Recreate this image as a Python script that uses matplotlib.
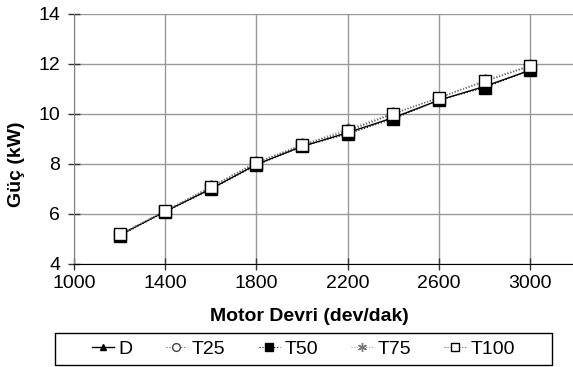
import matplotlib.pyplot as plt
from matplotlib.patches import Rectangle
import numpy as np

plt.rcParams['font.family'] = ['Liberation Sans', 'DejaVu Sans']

# Motor speed (dev/dak)
rpm = [1200, 1400, 1600, 1800, 2000, 2200, 2400, 2600, 2800, 3000]

# Power (kW) per fuel
d = [5.15, 6.10, 7.00, 7.98, 8.70, 9.25, 9.85, 10.55, 11.10, 11.75]
t25 = [5.18, 6.12, 7.05, 8.05, 8.75, 9.35, 10.00, 10.65, 11.30, 11.90]
t50 = [5.12, 6.08, 6.98, 7.95, 8.70, 9.20, 9.80, 10.55, 11.05, 11.75]
t75 = [5.18, 6.12, 7.10, 8.08, 8.78, 9.40, 10.05, 10.65, 11.35, 11.95]
t100 = [5.18, 6.12, 7.08, 8.05, 8.75, 9.30, 10.00, 10.65, 11.30, 11.93]

fig = plt.figure(figsize=(5.73, 3.67), dpi=100)
ax = fig.add_axes([0.129, 0.281, 0.876, 0.681])

ax.plot(rpm, d, color='black', lw=1.0, marker='^', ms=7, mfc='black', mec='black', label='D')
ax.plot(rpm, t25, color='#555555', lw=0.8, ls=':', marker='o', ms=8, mfc='white', mec='#444444', label='T25')
ax.plot(rpm, t50, color='black', lw=0.8, ls=':', marker='s', ms=8, mfc='black', mec='black', label='T50')
ax.plot(rpm, t75, color='#999999', lw=0.8, ls=':', marker=(6, 2, 0), ms=9, mec='#777777', label='T75')
ax.plot(rpm, t100, color='#666666', lw=0.8, ls=':', marker='s', ms=9, mfc='white', mec='black', label='T100')

ax.set_xlim(1000, 3200)
ax.set_ylim(4, 14)
ax.set_xticks(np.arange(1000, 3001, 400))
ax.set_yticks(np.arange(4, 15, 2))
ax.grid(True, color='#999999', lw=1.0)
ax.set_axisbelow(True)

ax.spines['top'].set_visible(False)
ax.spines['right'].set_visible(False)
ax.spines['left'].set_color('#808080')
ax.spines['bottom'].set_color('black')
ax.tick_params(direction='inout', length=8, width=1, labelsize=14, color='#333333')
ax.tick_params(axis='y', pad=6)
ax.tick_params(axis='x', pad=4)

ax.set_xlabel('Motor Devri (dev/dak)', fontsize=14, fontweight='bold')
ax.set_ylabel('Güç (kW)', fontsize=14, fontweight='bold')
ax.xaxis.set_label_coords(0.47, -0.175)
ax.yaxis.set_label_coords(-0.098, 0.4)

# legend frame drawn separately, entries centred inside it
fig.patches.append(Rectangle((55 / 573, 2 / 367), 497 / 573, 32 / 367,
                             transform=fig.transFigure, fill=False,
                             edgecolor='black', lw=1.0))
fig.legend(loc='center', bbox_to_anchor=(0.53, 0.049), ncol=5, fontsize=14,
           frameon=False, handlelength=1.1, handletextpad=0.25,
           columnspacing=1.7, borderaxespad=0, markerscale=0.7)

fig.savefig('out.png', dpi=100)
